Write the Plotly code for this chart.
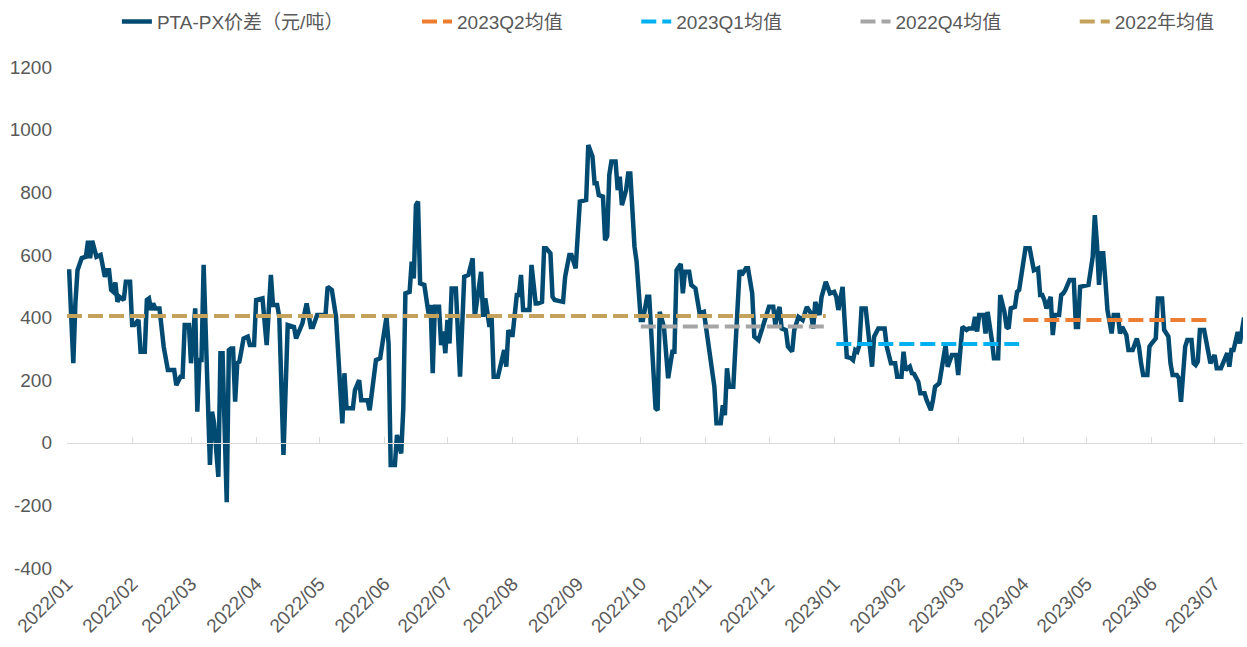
import pandas as pd
import plotly.graph_objects as go

# ---- data ----
base_date = "2022-01-01"
# day offsets from 2022-01-01 of each observation
day_offsets = [
    1, 3, 4, 5, 7, 9, 10, 11, 12, 14, 16, 17, 18, 19, 20, 21, 22, 23, 24, 25,
    27, 28, 30, 31, 32, 34, 35, 37, 38, 39, 40, 41, 42, 44, 46, 48, 51, 52, 54, 55,
    56, 58, 59, 61, 62, 63, 64, 65, 68, 69, 70, 72, 73, 74, 76, 77, 78, 79, 80, 81,
    82, 84, 86, 87, 89, 90, 92, 93, 95, 97, 98, 100, 101, 103, 105, 108, 109, 111, 112, 114,
    116, 117, 119, 123, 124, 126, 128, 131, 132, 133, 136, 137, 139, 140, 143, 144, 147, 149, 152, 153,
    154, 156, 157, 159, 160, 161, 163, 164, 165, 166, 167, 168, 170, 172, 173, 174, 175, 177, 178, 179,
    180, 181, 182, 183, 185, 187, 189, 191, 193, 194, 197, 198, 199, 201, 202, 203, 205, 208, 209, 210,
    211, 212, 214, 215, 216, 217, 220, 221, 223, 224, 226, 227, 228, 230, 231, 232, 236, 237, 239, 240,
    242, 244, 247, 248, 250, 251, 252, 253, 255, 256, 257, 258, 259, 261, 262, 263, 264, 266, 267, 268,
    270, 271, 273, 274, 276, 277, 278, 279, 280, 281, 282, 284, 286, 288, 289, 290, 292, 293, 294, 296,
    297, 299, 301, 303, 305, 306, 308, 309, 311, 312, 313, 314, 315, 317, 319, 320, 321, 323, 324, 326,
    327, 329, 330, 332, 333, 334, 336, 337, 338, 339, 340, 342, 343, 345, 346, 348, 350, 352, 354, 355,
    356, 358, 359, 361, 363, 365, 366, 367, 369, 370, 371, 373, 374, 375, 376, 377, 378, 380, 382, 383,
    384, 386, 389, 390, 392, 394, 395, 397, 398, 399, 401, 402, 403, 405, 406, 408, 409, 411, 412, 413,
    415, 416, 418, 419, 421, 423, 424, 426, 428, 429, 431, 432, 433, 434, 436, 437, 438, 440, 441, 443,
    444, 446, 447, 448, 449, 451, 452, 453, 455, 456, 458, 460, 462, 463, 464, 465, 466, 467, 468, 469,
    470, 472, 473, 474, 475, 477, 479, 480, 481, 482, 485, 486, 488, 489, 490, 491, 492, 493, 494, 495,
    497, 498, 500, 501, 502, 504, 505, 507, 509, 510, 511, 512, 514, 515, 516, 518, 519, 521, 522, 524,
    525, 526, 528, 529, 530, 532, 533, 535, 536, 537, 538, 539, 541, 543, 544, 546, 547, 549, 551, 552,
    553, 554, 555, 557, 558, 559, 560,
]
spread_values = [
    554, 254, 446, 551, 590, 594, 645, 589, 645, 594, 600, 562, 530, 551, 551, 488, 482, 512, 450, 466,
    456, 514, 514, 376, 376, 392, 291, 291, 456, 461, 424, 445, 429, 429, 307, 232, 232, 184, 211, 211,
    376, 376, 254, 429, 99, 264, 264, 568, -71, 99, 62, -109, 286, 286, -190, 296, 301, 301, 131, 254,
    259, 333, 339, 312, 312, 456, 461, 461, 312, 536, 440, 440, 402, -39, 376, 370, 333, 370, 381, 445,
    370, 370, 408, 408, 498, 488, 402, 62, 222, 110, 110, 168, 200, 136, 136, 104, 264, 270, 402, 317,
    -71, -71, 25, -34, 110, 477, 482, 578, 525, 759, 770, 509, 504, 413, 440, 222, 434, 434, 312, 355,
    286, 392, 317, 493, 493, 211, 530, 536, 589, 402, 546, 402, 461, 370, 402, 211, 211, 296, 243, 360,
    344, 344, 472, 472, 536, 424, 424, 568, 445, 445, 450, 621, 621, 605, 466, 456, 450, 530, 600, 600,
    557, 770, 775, 951, 914, 829, 829, 791, 786, 647, 660, 855, 898, 898, 807, 850, 759, 807, 860, 860,
    626, 578, 392, 392, 466, 466, 339, 250, 110, 104, 418, 370, 206, 291, 291, 551, 571, 477, 546, 546,
    504, 493, 413, 418, 317, 286, 179, 62, 62, 120, 88, 238, 179, 179, 402, 551, 536, 557, 557, 477,
    339, 328, 349, 392, 402, 434, 434, 376, 413, 434, 365, 360, 307, 291, 360, 402, 392, 434, 413, 365,
    450, 408, 466, 514, 477, 482, 466, 424, 498, 381, 274, 270, 264, 296, 291, 312, 429, 429, 312, 243,
    339, 365, 365, 307, 254, 254, 211, 211, 291, 232, 243, 222, 220, 195, 158, 158, 136, 104, 136, 179,
    190, 227, 312, 243, 280, 280, 216, 370, 360, 365, 365, 402, 355, 408, 408, 349, 418, 328, 270, 270,
    472, 418, 370, 365, 429, 434, 482, 488, 578, 621, 621, 551, 557, 472, 472, 456, 429, 450, 466, 344,
    408, 408, 472, 477, 488, 520, 520, 370, 370, 498, 504, 504, 594, 727, 637, 504, 605, 605, 520, 424,
    349, 408, 408, 349, 370, 344, 296, 296, 333, 306, 254, 216, 216, 307, 317, 333, 461, 461, 360, 339,
    254, 216, 216, 206, 131, 307, 328, 328, 254, 248, 259, 360, 360, 286, 254, 280, 238, 238, 274, 286,
    243, 296, 296, 354, 317, 365, 400,
]

series_name = "PTA-PX价差（元/吨）"
mean_names = ["2023Q2均值", "2023Q1均值", "2022Q4均值", "2022年均值"]
mean_values = [392, 315, 371, 405]
mean_starts = ["2023-04-01", "2023-01-02", "2022-10-01", "2022-01-01"]
mean_ends = ["2023-06-28", "2023-03-30", "2022-12-28", "2022-12-28"]
mean_colors = ["#ED7D31", "#00B0F0", "#A5A5A5", "#C4A25B"]

y_ticks = [-400, -200, 0, 200, 400, 600, 800, 1000, 1200]
y_tick_labels = [str(v) for v in y_ticks]

# ---- figure ----
dates = pd.Timestamp(base_date) + pd.to_timedelta(day_offsets, unit="D")

FONT = 'Arial, "Liberation Sans", "Noto Sans CJK SC", sans-serif'
TXT = "#595959"
PAD = "\u00a0" * 13  # extra spacing between legend entries


def legend_label(text, last=False):
    return text if last else text + PAD


fig = go.Figure()
fig.add_trace(go.Scatter(
    x=dates, y=spread_values, mode="lines", name=legend_label(series_name),
    line=dict(color="#014B72", width=4.5),
))
for i, (nm, v, s, e, c) in enumerate(zip(mean_names, mean_values, mean_starts, mean_ends, mean_colors)):
    fig.add_trace(go.Scatter(
        x=[s, e], y=[v, v], mode="lines",
        name=legend_label(nm, last=(i == len(mean_names) - 1)),
        line=dict(color=c, width=4, dash="15px,6px"),
    ))
# invisible trace carrying the zero-crossing axis
fig.add_trace(go.Scatter(x=[dates[0]], y=[0], xaxis="x2", mode="markers",
                         marker=dict(opacity=0), showlegend=False, hoverinfo="skip"))

fig.update_layout(
    width=1247, height=647,
    paper_bgcolor="white", plot_bgcolor="white",
    margin=dict(l=67, r=4, t=67, b=79),
    font=dict(family=FONT, color=TXT, size=19),
    showlegend=True,
    legend=dict(orientation="h", x=0.536, xanchor="center", xref="container",
                y=0.996, yanchor="top", yref="container",
                font=dict(size=19, color=TXT), tracegroupgap=0),
    xaxis=dict(
        type="date", range=["2022-01-01", "2023-07-14 12:00"],
        tick0="2022-01-01", dtick="M1", tickformat="%Y/%m", tickangle=-45,
        showgrid=False, showline=False, zeroline=False, ticks="",
        tickfont=dict(size=19, color=TXT), automargin=False,
    ),
    xaxis2=dict(
        matches="x", overlaying="x", anchor="free", position=0.25,
        type="date", tick0="2022-01-01", dtick="M1",
        showline=True, linecolor="#D9D9D9", linewidth=1.3,
        ticks="inside", ticklen=6, tickcolor="#D9D9D9", tickwidth=1.3,
        showticklabels=False, showgrid=False, zeroline=False,
    ),
    yaxis=dict(
        range=[-400, 1200], tickvals=y_ticks, ticktext=y_tick_labels,
        showgrid=False, zeroline=False,
        showline=False, ticks="", tickfont=dict(size=19, color=TXT),
        ticklabelstandoff=14, automargin=False,
    ),
)

fig.write_html("out.html", config={"displayModeBar": False},
               post_script="document.body.style.margin='0';")
